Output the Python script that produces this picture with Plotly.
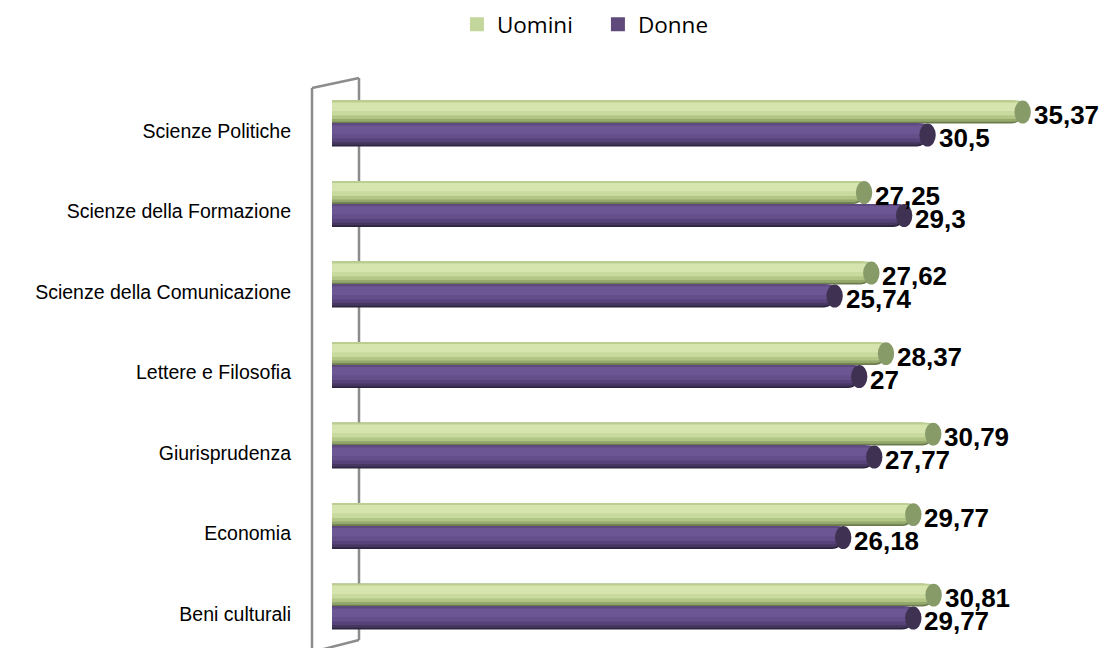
import plotly.graph_objects as go

categories = ["Scienze Politiche", "Scienze della Formazione", "Scienze della Comunicazione",
              "Lettere e Filosofia", "Giurisprudenza", "Economia", "Beni culturali"]
uomini = [35.37, 27.25, 27.62, 28.37, 30.79, 29.77, 30.81]
donne = [30.5, 29.3, 25.74, 27, 27.77, 26.18, 29.77]
series_names = ["Uomini", "Donne"]

n = len(categories)
pos = [n - 1 - i for i in range(n)]  # top category highest

W = 0.285
series_offset = {"Uomini": 0.235, "Donne": -0.05}
# (top fraction, bottom fraction, color) nested layers emulating cylinder shading
layers = {
    "Uomini": [(0.0, 1.0, "#6c7c4e"), (0.0, 0.92, "#95a96c"), (0.0, 0.8, "#b1c585"),
               (0.0, 0.65, "#c8da9e"), (0.0, 0.45, "#bccd92"), (0.08, 0.45, "#d6e5ad")],
    "Donne": [(0.0, 1.0, "#2e2540"), (0.0, 0.92, "#45375f"), (0.0, 0.8, "#57437a"),
              (0.0, 0.65, "#654f8a"), (0.0, 0.45, "#5f4a80"), (0.08, 0.45, "#6c5693")],
}
legend_color = {"Uomini": "#c3d69b", "Donne": "#604a7b"}
cap_color = {"Uomini": "#879b69", "Donne": "#3f3151"}

fig = go.Figure()
shapes = []
annotations = []

for name, vals in (("Uomini", uomini), ("Donne", donne)):
    centers = [p + series_offset[name] for p in pos]
    for li, (t, b, col) in enumerate(layers[name]):
        h = (b - t) * W
        yc = [c + W / 2 - (t + b) / 2 * W for c in centers]
        fig.add_trace(go.Bar(
            x=vals, y=yc, orientation="h", width=h,
            marker=dict(color=col, line=dict(width=0)),
            name=name, showlegend=False, hoverinfo="skip",
        ))
    # legend entry
    fig.add_trace(go.Scatter(
        x=[None], y=[None], mode="markers", name=name,
        marker=dict(color=legend_color[name], symbol="square", size=14), showlegend=True,
    ))
    for v, c in zip(vals, centers):
        shapes.append(dict(type="circle", xref="x", yref="y",
                           x0=v - 0.42, x1=v + 0.42, y0=c - W / 2, y1=c + W / 2,
                           fillcolor=cap_color[name], line=dict(width=0), layer="above"))
        annotations.append(dict(x=v, y=c, xref="x", yref="y", xanchor="left", yanchor="middle",
                                xshift=9, yshift=-3, showarrow=False,
                                text=f"{v:g}".replace(".", ","),
                                font=dict(family="Liberation Sans, Arial", size=26,
                                          color="#000000", weight="bold")))

# 3D wall bracket (decoration) in paper coordinates
L, R, T, B, WIDTH, HEIGHT = 332, 30, 60, 0, 1104, 648
pw = WIDTH - L - R
ph = HEIGHT - T - B
def px(x):
    return (x - L) / pw
def py(y):
    return (HEIGHT - B - y) / ph
wall = dict(color="#8c8c8c", width=2.5)
for (x0, y0, x1, y1) in [(312, 88, 312, 660), (312, 88, 359, 78), (359, 78, 359, 640),
                         (359, 640, 312, 652)]:
    shapes.append(dict(type="line", xref="paper", yref="paper",
                       x0=px(x0), y0=py(y0), x1=px(x1), y1=py(y1), line=wall, layer="below"))

fig.update_layout(
    width=WIDTH, height=HEIGHT,
    barmode="overlay",
    barcornerradius=11,
    paper_bgcolor="white", plot_bgcolor="white",
    margin=dict(l=L, r=R, t=T, b=B),
    shapes=shapes, annotations=annotations,
    showlegend=True,
    legend=dict(orientation="h", xref="container", yref="container",
                x=0.5416, xanchor="center", y=0.962, yanchor="middle",
                font=dict(family="Open Sans", size=22.5, color="#000000"),
                entrywidth=96, entrywidthmode="pixels",
                itemwidth=30, traceorder="normal"),
    xaxis=dict(range=[0, 38], showticklabels=False, showgrid=False, zeroline=False,
               showline=False, fixedrange=True),
    yaxis=dict(range=[-0.422, 6.882], tickvals=pos, ticktext=categories,
               showgrid=False, zeroline=False, showline=False, ticks="",
               ticklabelstandoff=40, fixedrange=True,
               tickfont=dict(family="Liberation Sans, Arial", size=19.5, color="#000000")),
)

fig.write_html("out.html", config={"displayModeBar": False},
               post_script="document.body.style.margin='0';document.body.style.overflow='hidden';")
